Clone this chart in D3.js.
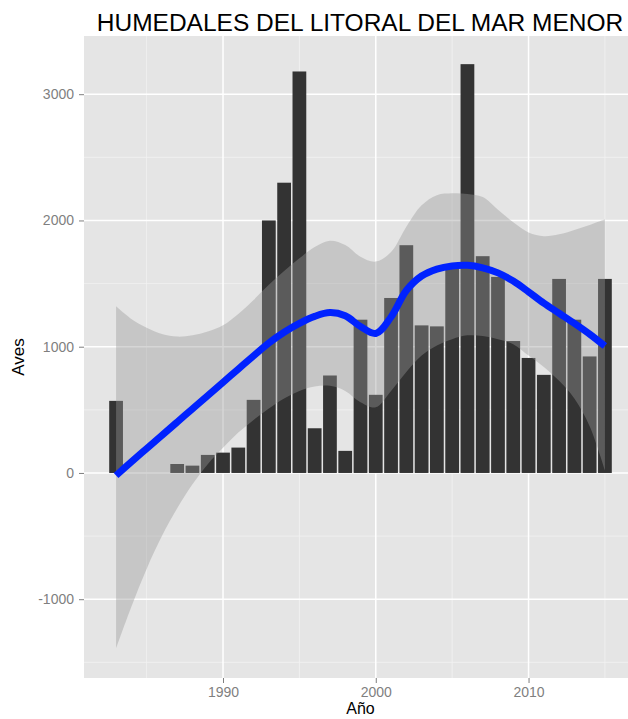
<!DOCTYPE html>
<html>
<head>
<meta charset="utf-8">
<script src="https://cdn.jsdelivr.net/npm/d3@7/dist/d3.min.js"></script>
<style>
  html, body { margin: 0; padding: 0; background: #ffffff; }
  svg { display: block; font-family: "Liberation Sans", Arial, sans-serif; }
</style>
</head>
<body>
<svg id="chart" width="628" height="719"></svg>
<script>
// ---- Data ----
const years = [1983, 1987, 1988, 1989, 1990, 1991, 1992, 1993, 1994, 1995, 1996, 1997, 1998, 1999, 2000,
               2001, 2002, 2003, 2004, 2005, 2006, 2007, 2008, 2009, 2010, 2011, 2012, 2013, 2014, 2015];
const aves = [571, 71, 58, 143, 161, 201, 579, 2000, 2299, 3180, 354, 772, 175, 1214, 619,
              1386, 1804, 1169, 1161, 1640, 3238, 1717, 1553, 1045, 911, 777, 1537, 1214, 923, 1537];

const smoothYears = [1983, 1984, 1985, 1986, 1987, 1988, 1989, 1990, 1991, 1992, 1993, 1994, 1995, 1996, 1997,
                     1998, 1999, 2000, 2001, 2002, 2003, 2004, 2005, 2006, 2007, 2008, 2009, 2010, 2011, 2012,
                     2013, 2014, 2015];
const smoothFit = [-20, 88, 193, 298, 403, 508, 613, 718, 823, 928, 1030, 1115, 1185, 1240, 1270,
                   1245, 1160, 1105, 1235, 1445, 1560, 1615, 1640, 1645, 1625, 1585, 1520, 1435, 1345, 1265,
                   1185, 1100, 1005];
const smoothUpper = [1320, 1220, 1150, 1100, 1080, 1090, 1120, 1170, 1260, 1370, 1490, 1600, 1700, 1790, 1840,
                     1806, 1713, 1674, 1750, 1950, 2120, 2200, 2215, 2210, 2185, 2085, 1985, 1905, 1875, 1890,
                     1925, 1965, 2010];
const smoothLower = [-1390, -1060, -760, -500, -280, -90, 70, 200, 320, 420, 510, 590, 650, 685, 690,
                     650, 560, 520, 650, 800, 930, 1010, 1060, 1090, 1085, 1060, 1020, 930, 840, 730,
                     590, 370, 20];

const xMajorTicks = [1990, 2000, 2010];
const xMinorTicks = [1985, 1995, 2005, 2015];
const yMajorTicks = [-1000, 0, 1000, 2000, 3000];
const yMinorTicks = [-1500, -500, 500, 1500, 2500];

const titleText = "HUMEDALES DEL LITORAL DEL MAR MENOR";
const xTitle = "Año";
const yTitle = "Aves";

// ---- Layout ----
const panel = { left: 84, top: 36, right: 637, bottom: 678 };
const svg = d3.select("#chart");

const x = d3.scaleLinear().domain([1980.9, 2017.1]).range([panel.left, panel.right]);
const y = d3.scaleLinear().domain([-1624, 3461]).range([panel.bottom, panel.top]);

svg.append("defs").append("clipPath").attr("id", "clip")
  .append("rect")
  .attr("x", panel.left).attr("y", panel.top)
  .attr("width", panel.right - panel.left).attr("height", panel.bottom - panel.top);

// panel background
svg.append("rect")
  .attr("x", panel.left).attr("y", panel.top)
  .attr("width", panel.right - panel.left).attr("height", panel.bottom - panel.top)
  .attr("fill", "#e5e5e5");

const grid = svg.append("g").attr("clip-path", "url(#clip)");
// minor grid
grid.selectAll(".xmin").data(xMinorTicks).join("line")
  .attr("x1", d => x(d)).attr("x2", d => x(d))
  .attr("y1", panel.top).attr("y2", panel.bottom)
  .attr("stroke", "#f2f2f2").attr("stroke-width", 0.8);
grid.selectAll(".ymin").data(yMinorTicks).join("line")
  .attr("y1", d => y(d)).attr("y2", d => y(d))
  .attr("x1", panel.left).attr("x2", panel.right)
  .attr("stroke", "#f2f2f2").attr("stroke-width", 0.8);
// major grid
grid.selectAll(".xmaj").data(xMajorTicks).join("line")
  .attr("x1", d => x(d)).attr("x2", d => x(d))
  .attr("y1", panel.top).attr("y2", panel.bottom)
  .attr("stroke", "#ffffff").attr("stroke-width", 1.5);
grid.selectAll(".ymaj").data(yMajorTicks).join("line")
  .attr("y1", d => y(d)).attr("y2", d => y(d))
  .attr("x1", panel.left).attr("x2", panel.right)
  .attr("stroke", "#ffffff").attr("stroke-width", 1.5);

const plot = svg.append("g").attr("clip-path", "url(#clip)");

// bars
const barW = x(1980.9 + 0.9) - x(1980.9);
plot.selectAll(".bar").data(years.map((yr, i) => ({ yr, v: aves[i] }))).join("rect")
  .attr("x", d => x(d.yr) - barW / 2)
  .attr("width", barW)
  .attr("y", d => y(d.v))
  .attr("height", d => y(0) - y(d.v))
  .attr("fill", "#333333");

// confidence ribbon
const smooth = smoothYears.map((yr, i) => ({ yr, fit: smoothFit[i], lo: smoothLower[i], hi: smoothUpper[i] }));
const area = d3.area()
  .x(d => x(d.yr))
  .y0(d => y(d.lo))
  .y1(d => y(d.hi))
  .curve(d3.curveCatmullRom.alpha(0.5));
plot.append("path").datum(smooth)
  .attr("d", area)
  .attr("fill", "#999999")
  .attr("fill-opacity", 0.4);

// smooth line
const line = d3.line()
  .x(d => x(d.yr))
  .y(d => y(d.fit))
  .curve(d3.curveCatmullRom.alpha(0.5));
plot.append("path").datum(smooth)
  .attr("d", line)
  .attr("fill", "none")
  .attr("stroke", "#0022ff")
  .attr("stroke-width", 7)
  .attr("stroke-linecap", "butt");

// axes
const fmt = d => String(d);
const xAxis = d3.axisBottom(x).tickValues(xMajorTicks).tickSize(5).tickPadding(4).tickFormat(fmt);
const gx = svg.append("g").attr("transform", `translate(0,${panel.bottom})`).call(xAxis);
gx.select(".domain").remove();
gx.selectAll("line").attr("stroke", "#7f7f7f");
gx.selectAll("text").attr("fill", "#7f7f7f").attr("font-size", 14).attr("font-family", "Liberation Sans, Arial, sans-serif");

const yAxis = d3.axisLeft(y).tickValues(yMajorTicks).tickSize(5).tickPadding(5).tickFormat(fmt);
const gy = svg.append("g").attr("transform", `translate(${panel.left},0)`).call(yAxis);
gy.select(".domain").remove();
gy.selectAll("line").attr("stroke", "#7f7f7f");
gy.selectAll("text").attr("fill", "#7f7f7f").attr("font-size", 14).attr("font-family", "Liberation Sans, Arial, sans-serif");

// titles
svg.append("text")
  .attr("x", 360).attr("y", 31)
  .attr("text-anchor", "middle")
  .attr("font-size", 24.5)
  .attr("fill", "#000")
  .text(titleText);

svg.append("text")
  .attr("x", (panel.left + panel.right) / 2).attr("y", 714)
  .attr("text-anchor", "middle")
  .attr("font-size", 16)
  .attr("fill", "#000")
  .text(xTitle);

svg.append("text")
  .attr("transform", `translate(24,${(panel.top + panel.bottom) / 2}) rotate(-90)`)
  .attr("text-anchor", "middle")
  .attr("font-size", 17)
  .attr("fill", "#000")
  .text(yTitle);
</script>
</body>
</html>
